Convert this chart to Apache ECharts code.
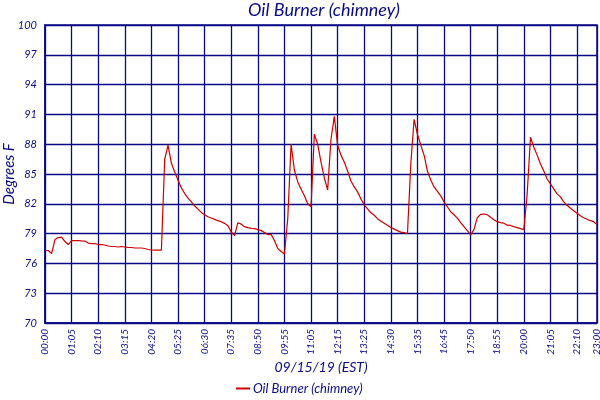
<!DOCTYPE html>
<html>
<head>
<meta charset="utf-8">
<script src="https://cdn.jsdelivr.net/npm/echarts@6/dist/echarts.min.js"></script>
<style>
html,body{margin:0;padding:0;background:#fff;}
#chart{width:600px;height:400px;}
</style>
</head>
<body>
<div id="chart"></div>
<script>
// Tick labels on the time axis (one every 8 samples, last one at the final sample)
var tickLabels = ['00:00','01:05','02:10','03:15','04:20','05:25','06:30','07:35','08:50','09:55',
  '11:05','12:15','13:25','14:30','15:35','16:45','17:50','18:55','20:00','21:05','22:10','23:00'];
var samplesPerTick = 8;
var seriesName = 'Oil Burner (chimney)';
// Temperature readings (Degrees F)
var temps = [
  77.3,77.3,77.0,78.4,78.6,78.65,78.2,77.9,
  78.3,78.3,78.3,78.27,78.25,78.05,78.0,78.0,
  77.9,77.9,77.85,77.75,77.7,77.7,77.65,77.7,
  77.65,77.62,77.6,77.55,77.55,77.55,77.5,77.4,
  77.35,77.33,77.33,77.33,86.5,87.9,86.1,85.2,
  84.4,83.6,83.03,82.57,82.2,81.8,81.47,81.13,
  80.9,80.7,80.57,80.43,80.3,80.2,80.03,79.8,
  79.17,78.8,80.1,79.95,79.7,79.6,79.53,79.5,
  79.4,79.3,79.1,78.9,78.93,78.3,77.5,77.2,
  76.95,80.5,88.0,85.4,84.2,83.5,82.8,82.0,
  81.7,89.0,88.0,86.2,84.6,83.4,88.5,90.8,
  87.9,86.9,86.2,85.3,84.3,83.7,83.2,82.5,
  81.9,81.5,81.1,80.85,80.5,80.25,80.05,79.85,
  79.62,79.45,79.3,79.15,79.1,79.0,86.0,90.5,
  89.0,87.9,86.9,85.3,84.4,83.7,83.25,82.8,
  82.2,81.7,81.2,80.9,80.55,80.1,79.7,79.3,
  78.87,79.4,80.6,80.93,80.97,80.9,80.65,80.4,
  80.2,80.1,80.05,79.85,79.82,79.7,79.6,79.5,
  79.4,83.0,88.7,87.7,86.9,86.0,85.3,84.5,
  84.0,83.5,83.0,82.7,82.2,81.85,81.55,81.3,
  81.05,80.8,80.6,80.45,80.3,80.2,79.9
];
var yMin = 70, yMax = 100, yStep = 3;

var lastIdx = temps.length - 1;
var categories = temps.map(function(v, i){
  if (i === lastIdx) return tickLabels[tickLabels.length - 1];
  if (i % samplesPerTick === 0) return tickLabels[i / samplesPerTick] || '';
  return '';
});
function isTick(i){ return i % samplesPerTick === 0 || i === lastIdx; }

var navy = '#0a0a86';
var fontFam = 'Lato, "DejaVu Sans", sans-serif';
var chart = echarts.init(document.getElementById('chart'));
chart.setOption({
  animation: false,
  backgroundColor: '#fff',
  title: {
    text: 'Oil Burner (chimney)',
    left: 319, top: -4, textAlign: 'center',
    textStyle: {color: navy, fontSize: 18, fontStyle: 'italic', fontWeight: 'normal', fontFamily: fontFam}
  },
  legend: {
    data: [seriesName], bottom: 0, left: 231,
    icon: 'rect', itemWidth: 14, itemHeight: 2, itemGap: 4,
    textStyle: {color: navy, fontSize: 13, fontStyle: 'italic', fontFamily: fontFam, padding: [0,0,0,-2]}
  },
  grid: {left: 45, right: 3, top: 25, bottom: 77, show: true, borderColor: navy, borderWidth: 1.5,
    containLabel: false, outerBoundsMode: 'none'},
  xAxis: {
    type: 'category', data: categories, boundaryGap: false,
    name: '09/15/19 (EST)', nameLocation: 'middle', nameGap: 37, nameMoveOverlap: false,
    nameTextStyle: {color: navy, fontSize: 14, fontStyle: 'italic', fontFamily: fontFam},
    axisLine: {lineStyle: {color: navy, width: 1.5}},
    axisTick: {show: false},
    axisLabel: {interval: function(i){ return isTick(i); }, rotate: 90, color: navy, fontSize: 10,
      fontStyle: 'italic', fontFamily: fontFam, margin: 6},
    splitLine: {show: true, interval: function(i){ return isTick(i); }, lineStyle: {color: navy, width: 1.3}}
  },
  yAxis: {
    type: 'value', min: yMin, max: yMax, interval: yStep,
    name: 'Degrees F', nameLocation: 'middle', nameGap: 28, nameRotate: 90, nameMoveOverlap: false,
    nameTextStyle: {color: navy, fontSize: 15, fontStyle: 'italic', fontFamily: fontFam},
    axisLine: {show: true, lineStyle: {color: navy, width: 1.5}},
    axisTick: {show: false},
    axisLabel: {color: navy, fontSize: 11, fontStyle: 'italic', fontFamily: fontFam, margin: 8},
    splitLine: {show: true, lineStyle: {color: navy, width: 1.3}}
  },
  series: [{
    name: seriesName, type: 'line', data: temps, showSymbol: false, symbol: 'none',
    lineStyle: {color: '#cc0000', width: 1.2}, itemStyle: {color: '#cc0000'}
  }]
});
</script>
</body>
</html>
